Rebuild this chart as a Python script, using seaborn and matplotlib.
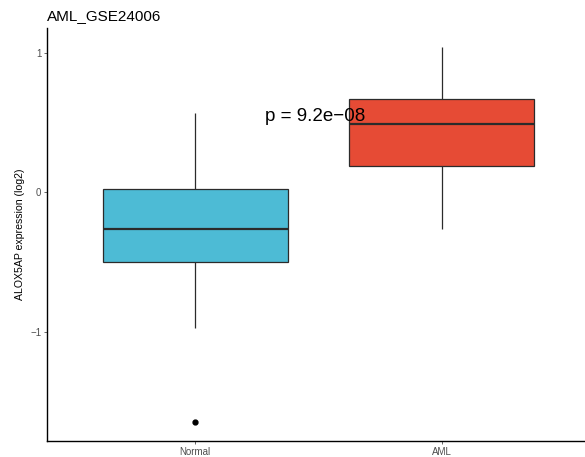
import numpy as np
import pandas as pd
import matplotlib
matplotlib.use("Agg")
import matplotlib.pyplot as plt
import seaborn as sns

groups = ["Normal", "AML"]
normal_values = [-1.650, -0.970, -0.500, -0.400, -0.264, -0.120, 0.025, 0.300, 0.569]
aml_values = [-0.261, 0.050, 0.187, 0.350, 0.490, 0.580, 0.671, 0.850, 1.046]
colors = ["#4DBBD5", "#E64B35"]
title = "AML_GSE24006"
ylabel = "ALOX5AP expression (log2)"
p_label = "p = 9.2e\u221208"

df = pd.DataFrame({
    "group": ["Normal"] * len(normal_values) + ["AML"] * len(aml_values),
    "value": normal_values + aml_values,
})

sns.set_theme(style="white")
plt.rcParams["font.family"] = ["Liberation Sans", "DejaVu Sans"]

fig = plt.figure(figsize=(5.85, 4.57), dpi=100)
ax = fig.add_axes([47 / 585, 1 - 441 / 457, 543 / 585, (441 - 28) / 457])

sns.boxplot(data=df, x="group", y="value", hue="group", order=groups,
            hue_order=groups, palette=colors, width=0.75, dodge=False,
            linewidth=0.9, linecolor="#2b2b2b", showcaps=False, legend=False,
            medianprops=dict(linewidth=1.6, color="#2b2b2b"),
            flierprops=dict(marker="o", markerfacecolor="black",
                            markeredgecolor="black", markersize=3.5),
            saturation=1, ax=ax)

ax.set_xlim(-0.6, 1.6)
ax.set_ylim(-1.785, 1.181)
ax.set_yticks([-1, 0, 1])
ax.set_yticklabels(["\u22121", "0", "1"])
ax.set_xlabel("")
ax.set_ylabel(ylabel, fontsize=7.6, color="black", labelpad=4)
ax.tick_params(axis="both", labelsize=7, colors="#4D4D4D", length=2.5,
               width=0.6, pad=1.5, left=True, bottom=True)
for s in ["top", "right"]:
    ax.spines[s].set_visible(False)
for s in ["left", "bottom"]:
    ax.spines[s].set_color("black")
    ax.spines[s].set_linewidth(1.0)

ax.text(0.283, 0.542, p_label, fontsize=13.5, ha="left", va="center",
        color="black")
fig.text(47 / 585, 1 - 20 / 457, title, fontsize=11, ha="left",
         va="baseline", color="black")

fig.savefig("out.png", dpi=100)
